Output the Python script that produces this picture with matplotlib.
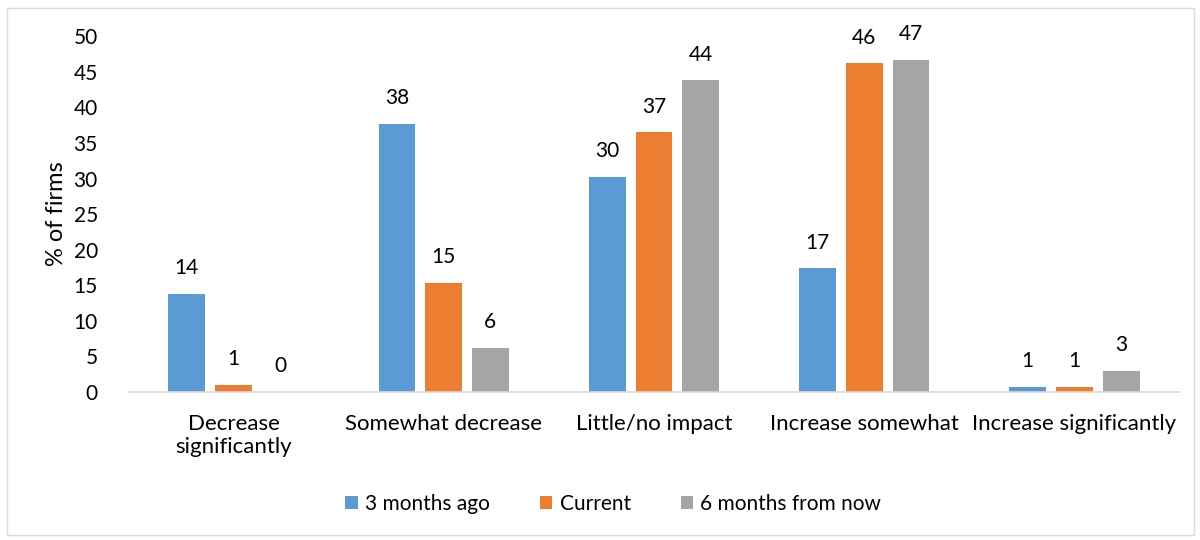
import matplotlib
matplotlib.use("Agg")
import matplotlib.pyplot as plt
import numpy as np
from matplotlib.patches import Rectangle

categories = ["Decrease\nsignificantly", "Somewhat decrease", "Little/no impact",
              "Increase somewhat", "Increase significantly"]
series_names = ["3 months ago", "Current", "6 months from now"]
three_months_ago = [13.8, 37.7, 30.2, 17.4, 0.7]
current = [1.0, 15.3, 36.5, 46.2, 0.7]
six_months = [0.0, 6.2, 43.8, 46.7, 3.0]
labels_3m = ["14", "38", "30", "17", "1"]
labels_cur = ["1", "15", "37", "46", "1"]
labels_6m = ["0", "6", "44", "47", "3"]
colors = ["#5b9bd5", "#ed7d31", "#a5a5a5"]
yticks = [0, 5, 10, 15, 20, 25, 30, 35, 40, 45, 50]

plt.rcParams['font.family'] = ['Lato', 'DejaVu Sans']

fig = plt.figure(figsize=(12, 5.4), dpi=100)
fig.patches.append(Rectangle((0.006, 0.01), 0.989, 0.975, transform=fig.transFigure,
                             fill=False, edgecolor="#d9d9d9", linewidth=1.0))
ax = fig.add_axes([0.107, 0.274, 0.876, 0.659])

x = np.arange(len(categories))
w = 0.175
off = 0.222
data = [three_months_ago, current, six_months]
labs = [labels_3m, labels_cur, labels_6m]
for i, (vals, lab) in enumerate(zip(data, labs)):
    pos = x + (i - 1) * off
    ax.bar(pos, vals, width=w, color=colors[i], label=series_names[i])
    for p, v, t in zip(pos, vals, lab):
        ax.text(p, v + 2.2, t, ha="center", va="bottom", fontsize=15, color="#000000")

ax.set_xlim(-0.5, len(categories) - 0.5)
ax.set_ylim(0, 50)
ax.set_yticks(yticks)
ax.set_yticklabels([str(t) for t in yticks], fontsize=15)
ax.set_xticks(x)
ax.set_xticklabels(categories, fontsize=16, linespacing=1.15)
ax.tick_params(axis="both", length=0)
ax.tick_params(axis="y", pad=22)
ax.tick_params(axis="x", pad=16)
for s in ["top", "right", "left"]:
    ax.spines[s].set_visible(False)
ax.spines["bottom"].set_color("#d9d9d9")
ax.spines["bottom"].set_linewidth(1.2)
ax.set_ylabel("% of firms", fontsize=17)
ax.yaxis.set_label_coords(-0.058, 0.5)

fig.legend(loc="center", bbox_to_anchor=(0.511, 0.067), ncol=3, frameon=False,
           fontsize=15, handlelength=0.6, handleheight=0.6, handletextpad=0.35,
           columnspacing=2.4)

fig.savefig("out.png", dpi=100)
